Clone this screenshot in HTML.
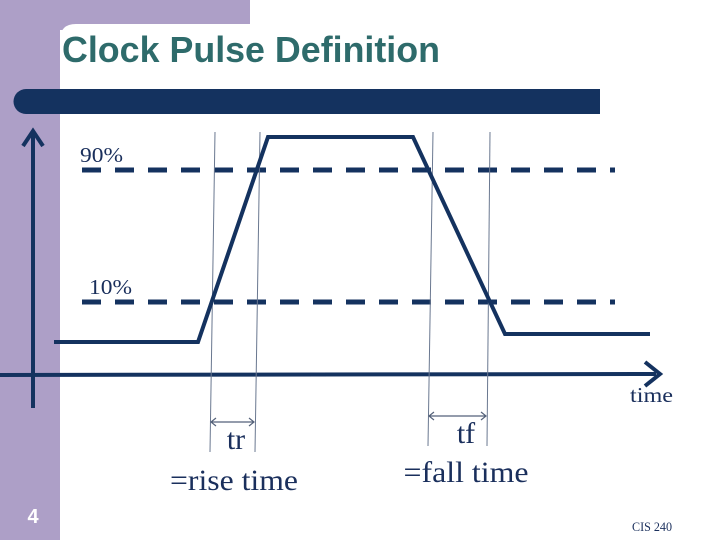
<!DOCTYPE html>
<html><head><meta charset="utf-8"><style>
html,body{margin:0;padding:0;background:#fff;}
svg{display:block;}
</style></head><body>
<svg width="720" height="540" viewBox="0 0 720 540" xmlns="http://www.w3.org/2000/svg">
<rect x="0" y="0" width="720" height="540" fill="#fff"/>
<rect x="0" y="0" width="250" height="30" fill="#ad9fc7"/>
<rect x="0" y="0" width="60" height="540" fill="#ad9fc7"/>
<path d="M60 40 Q60 24 76 24 L250 24 L250 30 L60 30 Z" fill="#fff"/>
<text x="62" y="62" font-family="Liberation Sans, sans-serif" font-weight="bold" font-size="36" fill="#2e6b6b" textLength="378" lengthAdjust="spacingAndGlyphs">Clock Pulse Definition</text>
<path d="M26 89 L600 89 L600 114 L26 114 A12.5 12.5 0 0 1 26 89 Z" fill="#14325f"/>
<g id="chart"></g>
<text x="33" y="523" font-family="Liberation Sans, sans-serif" font-weight="bold" font-size="20" fill="#fff" text-anchor="middle">4</text>
<text x="632" y="531" font-family="Liberation Serif, serif" font-size="13" fill="#1a2f5c" textLength="40" lengthAdjust="spacingAndGlyphs">CIS 240</text>
</svg>
<script>
const waveX = [54, 198, 268, 413, 505, 650];
const waveY = [342, 342, 137, 137, 334, 334];
const levelLabels = ["90%", "10%"];
const levelY = [170, 302];
const guideTopX = [215, 260, 433, 490];
const guideBotX = [210, 255, 428, 487];
const spanLabels = ["tr", "tf"];
const spanDesc = ["=rise time", "=fall time"];

const NS = "http://www.w3.org/2000/svg";
const g = document.getElementById("chart");
const C = "#14325f";
function mk(tag, attrs, parent) {
  const e = document.createElementNS(NS, tag);
  for (const k in attrs) e.setAttribute(k, attrs[k]);
  (parent || g).appendChild(e);
  return e;
}
let ax = mk("line", {x1:33, y1:408, x2:33, y2:132, stroke:C, "stroke-width":4});


let ah = mk("path", {d:"M23 146 L33 131 L43 146", fill:"none", stroke:C, "stroke-width":4});


let xa = mk("line", {x1:0, y1:375, x2:656, y2:374, stroke:C, "stroke-width":4});


let xh = mk("path", {d:"M645 362 L660 374 L645 386", fill:"none", stroke:C, "stroke-width":4});


let tl = mk("text", {x:630, y:402, "font-family":"Liberation Serif, serif", "font-size":21, fill:"#1a2f5c", textLength:43, lengthAdjust:"spacingAndGlyphs"});
tl.textContent = "time";


levelY.forEach((y, i) => {
  const l = mk("line", {x1:82, y1:y, x2:615, y2:y, stroke:C, "stroke-width":5, "stroke-dasharray":"19 14"});
  
  
  const t = mk("text", {x:80 + i * 9, y:y - 8, "font-family":"Liberation Serif, serif", "font-size":21, fill:"#1a2f5c", textLength:43, lengthAdjust:"spacingAndGlyphs"});
  t.textContent = levelLabels[i];
  
  
});
guideTopX.forEach((x, i) => {
  const l = mk("line", {x1:x, y1:132, x2:guideBotX[i], y2:i < 2 ? 452 : 446, stroke:"#6a7890", "stroke-width":1});
  
  
});
const w = mk("polyline", {points: waveX.map((x, i) => x + "," + waveY[i]).join(" "), fill:"none", stroke:C, "stroke-width":4, "stroke-linejoin":"miter"});


const spanY = [422, 416];
const textPos = [[236, 449, 30], [466, 443, 30]];
const descPos = [[234, 490, 128], [466, 482, 125]];
[0, 1].forEach(i => {
  const a = guideBotX[i * 2] + 1, b = guideBotX[i * 2 + 1] - 1, y = spanY[i];
  const s = mk("path", {d:`M${a} ${y} L${b} ${y} M${a+5} ${y-4} L${a} ${y} L${a+5} ${y+4} M${b-5} ${y-4} L${b} ${y} L${b-5} ${y+4}`, fill:"none", stroke:"#55627a", "stroke-width":1.2});
  
  
  const t = mk("text", {x:textPos[i][0], y:textPos[i][1], "text-anchor":"middle", "font-family":"Liberation Serif, serif", "font-size":textPos[i][2], fill:"#1a2f5c"});
  t.textContent = spanLabels[i];
  
  
  const d = mk("text", {x:descPos[i][0], y:descPos[i][1], "text-anchor":"middle", "font-family":"Liberation Serif, serif", "font-size":30, fill:"#1a2f5c", textLength:descPos[i][2], lengthAdjust:"spacingAndGlyphs"});
  d.textContent = spanDesc[i];
  
  
});
</script>
</body></html>
